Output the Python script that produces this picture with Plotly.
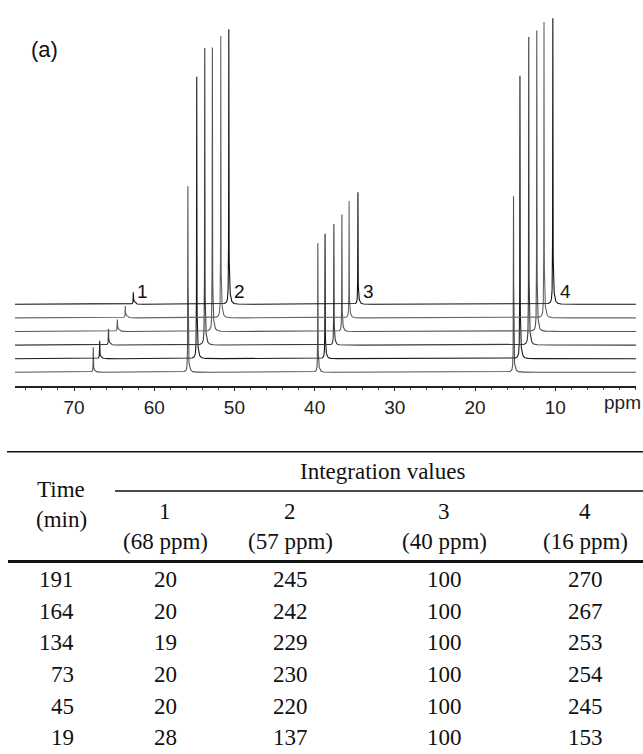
import numpy as np
import plotly.graph_objects as go

# ---------------- data ----------------
# Table (rows top to bottom)
times = ["191", "164", "134", "73", "45", "19"]
int1 = ["20", "20", "19", "20", "20", "28"]
int2 = ["245", "242", "229", "230", "220", "137"]
int3 = ["100", "100", "100", "100", "100", "100"]
int4 = ["270", "267", "253", "254", "245", "153"]
col_heads = ["1", "2", "3", "4"]
col_ppm = ["(68 ppm)", "(57 ppm)", "(40 ppm)", "(16 ppm)"]

# Stacked spectra, bottom trace first: observed peak positions (ppm) and heights (a.u.)
peak1_pos = [67.6, 66.8, 65.7, 64.6, 63.6, 62.6]
peak1_h = [25, 18, 16, 12, 12, 12]
peak2_pos = [55.8, 54.7, 53.7, 52.75, 51.7, 50.7]
peak2_h = [186, 282, 297, 284, 282, 275]
peak3_pos = [39.6, 38.7, 37.6, 36.6, 35.7, 34.6]
peak3_h = [129, 125, 121, 117, 117, 112]
peak4_pos = [15.2, 14.4, 13.3, 12.3, 11.4, 10.3]
peak4_h = [176, 283, 308, 301, 296, 286]

tick_vals = [70, 60, 50, 40, 30, 20, 10]
peak_labels = ["1", "2", "3", "4"]

# ---------------- figure geometry ----------------
W, H = 643, 754
X0, X1 = 15, 636          # plot area left/right (px)
YT, YB = 10, 386          # plot area top/bottom (px)
XR = [77.36, -0.07]       # ppm range (reversed)
BASE0, STEP = 13.7, 13.6  # baseline of bottom trace and vertical stacking step


def px(x):
    return x / W


def py(y):
    return 1 - y / H


fig = go.Figure()

grid = np.arange(XR[0], XR[1], -0.01)
colors = ["#555555", "#1a1a1a", "#3a3a3a", "#555555", "#666666", "#111111"]
W_N, W_B, SHIFT_B = 0.02, 0.15, 0.12
for k in range(6):
    y = np.full_like(grid, BASE0 + STEP * k)
    for pos, h in ((peak1_pos[k], peak1_h[k]), (peak2_pos[k], peak2_h[k]),
                   (peak3_pos[k], peak3_h[k]), (peak4_pos[k], peak4_h[k])):
        hb = max(2.5, 0.03 * h)
        broad_at_top = hb * W_B ** 2 / (W_B ** 2 + SHIFT_B ** 2)
        hn = max(h - broad_at_top, 0.5 * h)
        y += hn * W_N ** 2 / (W_N ** 2 + (grid - pos) ** 2)
        y += hb * W_B ** 2 / (W_B ** 2 + (grid - (pos - SHIFT_B)) ** 2)
    fig.add_trace(go.Scatter(x=grid, y=y, mode="lines",
                             line=dict(color=colors[k], width=1.1),
                             hoverinfo="skip", showlegend=False))

fig.update_layout(
    width=W, height=H,
    margin=dict(l=0, r=0, t=0, b=0),
    paper_bgcolor="white", plot_bgcolor="white",
    xaxis=dict(domain=[X0 / W, X1 / W], range=XR, tickmode="array",
               tickvals=tick_vals, ticktext=[str(v) for v in tick_vals],
               showgrid=False, zeroline=False, showline=True,
               linecolor="#222222", linewidth=1.8, ticks="outside",
               ticklen=3, tickcolor="#222222",
               minor=dict(tickmode="linear", tick0=0, dtick=2, ticks="outside",
                          ticklen=2, tickcolor="#444444"),
               tickfont=dict(family="Liberation Sans", size=19, color="#222222")),
    yaxis=dict(domain=[py(YB), py(YT)], range=[0, YB - YT], visible=False),
)

ann = []
ann.append(dict(x=px(44), y=py(50), text="(a)", showarrow=False,
                xref="paper", yref="paper", xanchor="center", yanchor="middle",
                font=dict(family="Liberation Sans", size=22, color="#111111")))
for lab, xp in zip(peak_labels, [142, 239, 368, 565]):
    ann.append(dict(x=px(xp), y=py(291), text=lab, showarrow=False,
                    xref="paper", yref="paper", xanchor="center", yanchor="middle",
                    font=dict(family="Liberation Sans", size=19, color="#111111")))
ann.append(dict(x=px(622), y=py(403), text="ppm", showarrow=False,
                xref="paper", yref="paper", xanchor="center", yanchor="middle",
                font=dict(family="Liberation Sans", size=19, color="#222222")))

# ---------------- table ----------------
serif = dict(family="Liberation Serif", size=23, color="#111111")
col_x = [165, 290, 444, 585]


def txt(x, y, s, anchor="center"):
    ann.append(dict(x=px(x), y=py(y), text=s, showarrow=False, xref="paper",
                    yref="paper", xanchor=anchor, yanchor="middle", font=serif))


txt(382, 471, "Integration values")
txt(61, 489, "Time")
txt(61, 519, "(min)")
for cx, h1, h2 in zip(col_x, col_heads, col_ppm):
    txt(cx, 511, h1)
    txt(cx, 541, h2)

row_y = [579, 611, 642.5, 674, 706, 737.5]
for i, ry in enumerate(row_y):
    txt(76, ry, times[i], anchor="right")
    txt(col_x[0], ry, int1[i])
    txt(col_x[1], ry, int2[i])
    txt(col_x[2], ry, int3[i])
    txt(col_x[3], ry, int4[i])

shapes = [
    dict(type="line", xref="paper", yref="paper", x0=px(7), x1=1, y0=py(451.7), y1=py(451.7),
         line=dict(color="#111111", width=1.5)),
    dict(type="line", xref="paper", yref="paper", x0=px(115), x1=1, y0=py(491), y1=py(491),
         line=dict(color="#111111", width=1.5)),
    dict(type="line", xref="paper", yref="paper", x0=px(8), x1=1, y0=py(561.5), y1=py(561.5),
         line=dict(color="#111111", width=3)),
]

fig.update_layout(annotations=ann, shapes=shapes)
fig.write_html("out.html")
